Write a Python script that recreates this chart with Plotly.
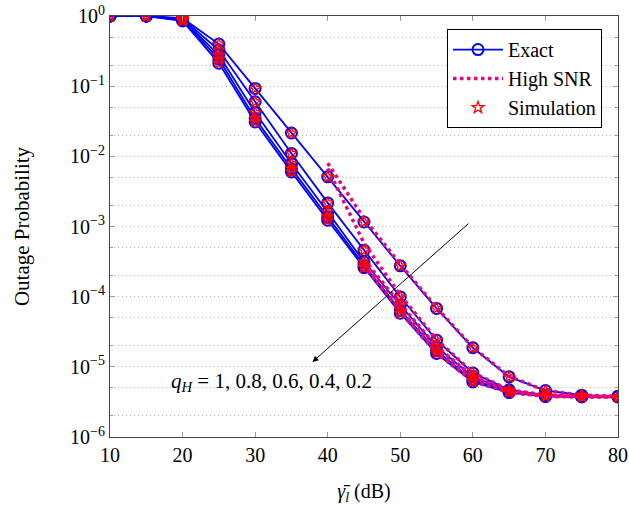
import plotly.graph_objects as go

# average SNR (dB)
snr_db = [10, 15, 20, 25, 30, 35, 40, 45, 50, 55, 60, 65, 70, 75, 80]

# exact outage probability, one list per q_H curve (top to bottom)
exact_q1 = [1.0, 1.0, 0.93, 0.398, 0.093, 0.0215, 0.0051, 1.16e-3, 2.75e-4, 6.8e-5, 1.87e-5, 7.2e-6, 4.6e-6, 3.95e-6, 3.8e-6]
exact_q08 = [1.0, 1.0, 0.91, 0.327, 0.060, 0.011, 0.00217, 4.6e-4, 9.9e-5, 2.4e-5, 8.2e-6, 4.7e-6, 3.95e-6, 3.8e-6, 3.75e-6]
exact_q06 = [1.0, 1.0, 0.89, 0.277, 0.042, 0.0079, 0.00161, 3.13e-4, 7.6e-5, 1.93e-5, 7.2e-6, 4.5e-6, 3.85e-6, 3.75e-6, 3.75e-6]
exact_q04 = [1.0, 1.0, 0.87, 0.243, 0.0346, 0.0067, 0.00137, 2.8e-4, 6.4e-5, 1.7e-5, 6.5e-6, 4.4e-6, 3.8e-6, 3.75e-6, 3.75e-6]
exact_q02 = [1.0, 1.0, 0.85, 0.213, 0.0309, 0.0060, 0.00123, 2.6e-4, 5.8e-5, 1.55e-5, 6.1e-6, 4.3e-6, 3.8e-6, 3.75e-6, 3.75e-6]

# high SNR approximation
snr_hi_a = [40, 45, 50, 55, 60, 65, 70, 75, 80]
hi_q1 = [8.0e-3, 1.3e-3, 2.9e-4, 7.0e-5, 1.9e-5, 7.3e-6, 4.6e-6, 3.95e-6, 3.8e-6]
hi_q08 = [6.7e-3, 5.8e-4, 1.05e-4, 2.45e-5, 8.3e-6, 4.7e-6, 3.95e-6, 3.8e-6, 3.75e-6]
snr_hi_b = [45, 50, 55, 60, 65, 70, 75, 80]
hi_q06 = [3.4e-4, 7.8e-5, 1.95e-5, 7.3e-6, 4.5e-6, 3.85e-6, 3.75e-6, 3.75e-6]
hi_q04 = [3.0e-4, 6.6e-5, 1.72e-5, 6.6e-6, 4.4e-6, 3.8e-6, 3.75e-6, 3.75e-6]
hi_q02 = [2.8e-4, 6.0e-5, 1.57e-5, 6.2e-6, 4.3e-6, 3.8e-6, 3.75e-6, 3.75e-6]

# simulation points (same SNR grid as exact)
sim_q1 = exact_q1
sim_q08 = exact_q08
sim_q06 = exact_q06
sim_q04 = exact_q04
sim_q02 = exact_q02

y_tickvals = [1, 1e-1, 1e-2, 1e-3, 1e-4, 1e-5, 1e-6]
y_ticktext = ['10<sup>0</sup>', '10<sup>−1</sup>', '10<sup>−2</sup>', '10<sup>−3</sup>',
              '10<sup>−4</sup>', '10<sup>−5</sup>', '10<sup>−6</sup>']
x_tickvals = [10, 20, 30, 40, 50, 60, 70, 80]

BLUE = '#0000ff'
MAGENTA = '#e4087e'
RED = '#ff0000'
FONT = 'Liberation Serif'
GRID = '#b4b4b4'

fig = go.Figure()

exact_all = [exact_q1, exact_q08, exact_q06, exact_q04, exact_q02]
for i, ys in enumerate(exact_all):
    fig.add_trace(go.Scatter(
        x=snr_db, y=ys, mode='lines+markers', name='Exact',
        legendgroup='exact', showlegend=(i == 0),
        line=dict(color=BLUE, width=1.8),
        marker=dict(symbol='circle-open', size=11, color=BLUE, line=dict(width=2, color=BLUE))
    ))

hi_all = [(snr_hi_a, hi_q1), (snr_hi_a, hi_q08), (snr_hi_b, hi_q06), (snr_hi_b, hi_q04), (snr_hi_b, hi_q02)]
for i, (xs, ys) in enumerate(hi_all):
    fig.add_trace(go.Scatter(
        x=xs, y=ys, mode='lines', name='High SNR',
        legendgroup='hi', showlegend=(i == 0),
        line=dict(color=MAGENTA, width=3.5, dash='dot')
    ))

sim_all = [sim_q1, sim_q08, sim_q06, sim_q04, sim_q02]
for i, ys in enumerate(sim_all):
    fig.add_trace(go.Scatter(
        x=snr_db, y=ys, mode='markers', name='Simulation',
        legendgroup='sim', showlegend=(i == 0),
        marker=dict(symbol='star-open', size=9, color=RED, line=dict(width=1.3, color=RED))
    ))

# arrow + label for q_H
fig.add_annotation(
    x=37.9, y=-4.93, ax=59.6, ay=-2.94,
    xref='x', yref='y', axref='x', ayref='y',
    showarrow=True, arrowhead=2, arrowsize=1.2, arrowwidth=1, arrowcolor='black', text=''
)
fig.add_annotation(
    x=32.3, y=-5.22, xref='x', yref='y', showarrow=False,
    text='<i>q</i><sub><i>H</i></sub> = 1, 0.8, 0.6, 0.4, 0.2',
    font=dict(family=FONT, size=21, color='black')
)

fig.update_layout(
    width=629, height=506,
    margin=dict(l=109.5, r=11, t=16, b=69),
    paper_bgcolor='white', plot_bgcolor='white',
    font=dict(family=FONT, size=20, color='black'),
    legend=dict(
        x=0.9685, y=0.969, xanchor='right', yanchor='top',
        bordercolor='black', borderwidth=1, bgcolor='white',
        font=dict(family=FONT, size=20), tracegroupgap=0, itemwidth=50
    ),
    showlegend=True
)

fig.update_xaxes(
    range=[10, 80], tickvals=x_tickvals, automargin=False, ticklabeloverflow='allow',
    showline=True, linecolor='#444', linewidth=1, mirror='ticks',
    ticks='inside', ticklen=5, tickcolor='#999',
    showgrid=False, zeroline=False,
    title=dict(text='<i>γ̄</i><sub><i>l</i></sub> (dB)', font=dict(family=FONT, size=20), standoff=18)
)
fig.update_yaxes(
    type='log', range=[-6, 0], tickvals=y_tickvals, ticktext=y_ticktext, automargin=False,
    ticklabeloverflow='allow',
    showline=True, linecolor='#444', linewidth=1, mirror='ticks',
    ticks='inside', ticklen=5, tickcolor='#999',
    showgrid=True, gridcolor=GRID, griddash='1px,3px', gridwidth=1,
    minor=dict(ticks='inside', ticklen=3, tickcolor='#999',
               showgrid=True, gridcolor=GRID, griddash='1px,3px', gridwidth=1),
    zeroline=False,
    title=dict(text='Outage Probability', font=dict(family=FONT, size=21), standoff=34)
)

# drop the default page margin so the figure sits at the window's top-left corner
fig.write_html("out.html", config={'displayModeBar': False},
               post_script="document.body.style.margin='0';")
